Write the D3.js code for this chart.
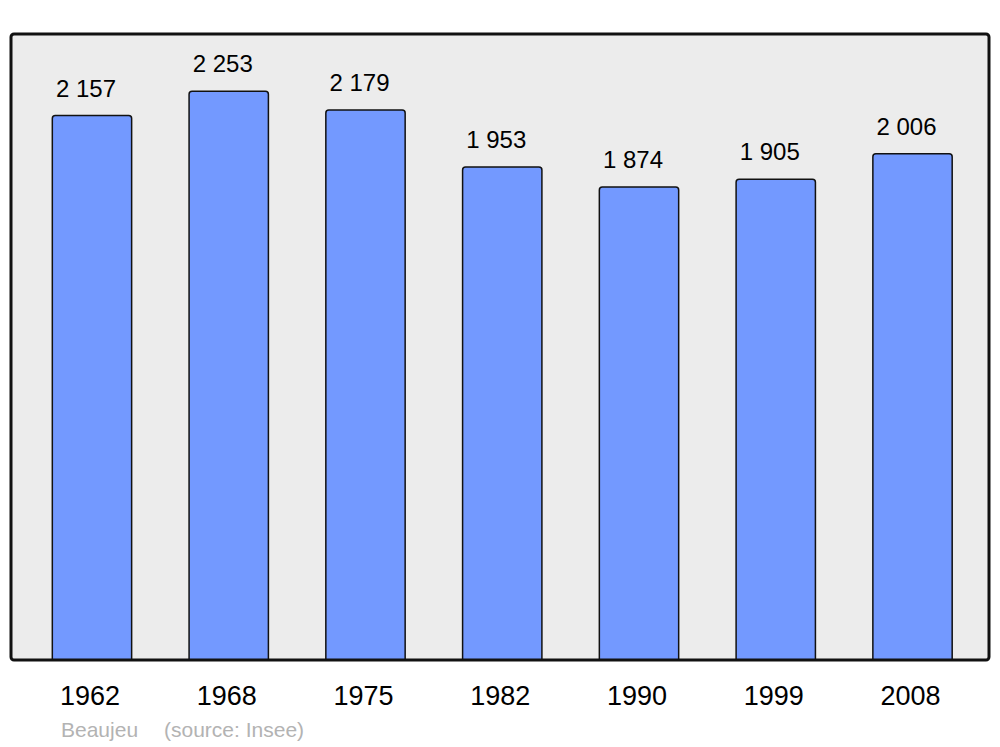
<!DOCTYPE html>
<html><head><meta charset="utf-8">
<script src="https://cdn.jsdelivr.net/npm/d3@7"></script>
<style>body{margin:0;background:#fff}svg{display:block;font-family:"Liberation Sans",Arial,sans-serif}</style>
</head><body>
<svg id="c" width="1000" height="747"></svg>
<script>
const years = ["1962","1968","1975","1982","1990","1999","2008"];
const population = [2157, 2253, 2179, 1953, 1874, 1905, 2006];
const valueLabels = ["2 157","2 253","2 179","1 953","1 874","1 905","2 006"];
const commune = "Beaujeu";
const source = "(source: Insee)";

const svg = d3.select("#c");
const frame = {x0: 11, x1: 989, y0: 34, y1: 660};

svg.append("rect").attr("x", frame.x0).attr("y", frame.y0)
  .attr("width", frame.x1 - frame.x0).attr("height", frame.y1 - frame.y0)
  .attr("rx", 3).attr("fill", "#ececec").attr("stroke", "none");

const x = d3.scaleBand().domain(years).range([23.6, 980.9]).paddingInner(0.42).paddingOuter(0.21);
const y = d3.scaleLinear().domain([0, 2480]).range([frame.y1, frame.y0]);

const data = years.map((yr, i) => ({yr, v: population[i], lab: valueLabels[i]}));

function barPath(d) {
  const x0 = x(d.yr), w = x.bandwidth(), t = y(d.v), b = y(0), r = 3;
  return `M${x0},${b}V${t + r}Q${x0},${t} ${x0 + r},${t}H${x0 + w - r}Q${x0 + w},${t} ${x0 + w},${t + r}V${b}Z`;
}

svg.selectAll("path.bar").data(data).join("path").attr("class", "bar")
  .attr("d", barPath).attr("fill", "#7399ff").attr("stroke", "#111").attr("stroke-width", 1.5);

svg.selectAll("text.val").data(data).join("text").attr("class", "val")
  .attr("x", d => x(d.yr) + x.bandwidth() / 2 - 6).attr("y", d => y(d.v) - 19)
  .attr("text-anchor", "middle").attr("font-size", 24).attr("fill", "#000").text(d => d.lab);

svg.append("rect").attr("x", frame.x0).attr("y", frame.y0)
  .attr("width", frame.x1 - frame.x0).attr("height", frame.y1 - frame.y0)
  .attr("rx", 3).attr("fill", "none").attr("stroke", "#111").attr("stroke-width", 3);

const xAxis = d3.axisBottom(x).tickSize(0).tickPadding(0);
const gx = svg.append("g").attr("transform", `translate(-2,${frame.y1})`).call(xAxis);
gx.select(".domain").remove();
gx.selectAll("text").attr("font-size", 27).attr("fill", "#000")
  .attr("font-family", '"Liberation Sans",Arial,sans-serif').attr("dy", null).attr("y", 45);

svg.append("text").attr("x", 61).attr("y", 737).attr("font-size", 21).attr("fill", "#b3b3b3").text(commune);
svg.append("text").attr("x", 164).attr("y", 737).attr("font-size", 21).attr("fill", "#b3b3b3").text(source);
</script>
</body></html>
